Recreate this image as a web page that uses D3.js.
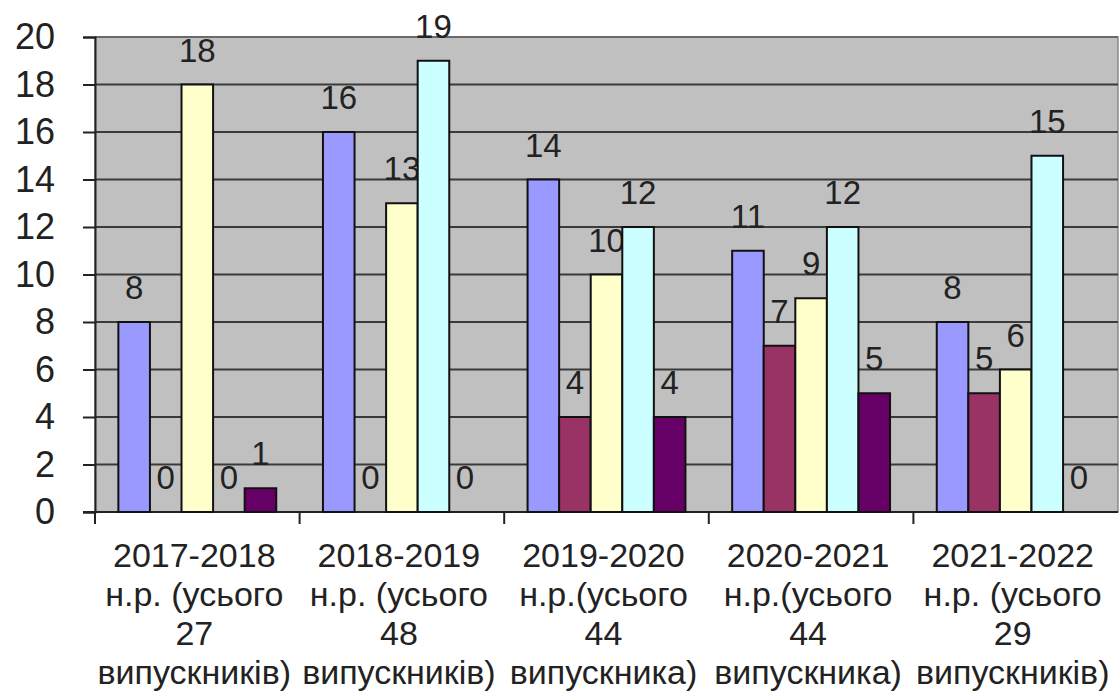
<!DOCTYPE html>
<html>
<head>
<meta charset="utf-8">
<script src="https://cdn.jsdelivr.net/npm/d3@7"></script>
<style>
  html, body { margin: 0; padding: 0; background: #fff; }
  svg { display: block; font-family: "Liberation Sans", Arial, sans-serif; }
</style>
</head>
<body>
<svg></svg>
<script>
// Category labels (one array of lines per school year)
const categories = ["2017-2018", "2018-2019", "2019-2020", "2020-2021", "2021-2022"];
const categoryLines = [
    ["2017-2018", "н.р. (усього", "27", "випускників)"],
    ["2018-2019", "н.р. (усього", "48", "випускників)"],
    ["2019-2020", "н.р.(усього", "44", "випускника)"],
    ["2020-2021", "н.р.(усього", "44", "випускника)"],
    ["2021-2022", "н.р. (усього", "29", "випускників)"]
];

// Series values
const seriesBlue = [8, 16, 14, 11, 8];
const seriesMaroon = [0, 0, 4, 7, 5];
const seriesYellow = [18, 13, 10, 9, 6];
const seriesCyan = [0, 19, 12, 12, 15];
const seriesPurple = [1, 0, 4, 5, 0];

const seriesColors = ["#9999ff", "#993366", "#ffffcc", "#ccffff", "#660066"];
const yTicks = [0, 2, 4, 6, 8, 10, 12, 14, 16, 18, 20];

const allSeries = [seriesBlue, seriesMaroon, seriesYellow, seriesCyan, seriesPurple];

const width = 1120;
const height = 697;
const plotLeft = 95;
const plotRight = 1118;
const plotTop = 37;
const plotBottom = 512;

const svg = d3.select("svg")
    .attr("width", width)
    .attr("height", height);

const xScale = d3.scaleBand()
    .domain(categories)
    .range([plotLeft, plotRight])
    .padding(0);

//Bars inside one category
const innerScale = d3.scaleBand()
    .domain(d3.range(allSeries.length))
    .range([0, xScale.bandwidth()])
    .paddingInner(0)
    .paddingOuter(0.74);

const yScale = d3.scaleLinear()
    .domain([0, 20])
    .range([plotBottom, plotTop]);

//Gray plot area
svg.append("rect")
    .attr("x", plotLeft)
    .attr("y", plotTop)
    .attr("width", plotRight - plotLeft)
    .attr("height", plotBottom - plotTop)
    .attr("fill", "#c0c0c0")
    .attr("stroke", "#8a8a8a")
    .attr("stroke-width", 1.5);

//Gridlines
svg.append("g")
    .selectAll("line")
    .data(yTicks.filter(d => d > 0))
    .enter()
    .append("line")
    .attr("x1", plotLeft)
    .attr("x2", plotRight)
    .attr("y1", d => yScale(d))
    .attr("y2", d => yScale(d))
    .attr("stroke", d => d === 20 ? "#6a6a6a" : "#3a3a3a")
    .attr("stroke-width", 2);

//Y axis
const yAxis = d3.axisLeft(yScale)
    .tickValues(yTicks)
    .tickSize(12)
    .tickPadding(28);

const yAxisGroup = svg.append("g")
    .attr("transform", "translate(" + plotLeft + ", 0)")
    .call(yAxis);
yAxisGroup.select(".domain").attr("stroke", "#222").attr("stroke-width", 2);
yAxisGroup.selectAll(".tick line").attr("stroke", "#222").attr("stroke-width", 2);
yAxisGroup.selectAll(".tick text")
    .attr("fill", "#222")
    .style("font-size", "36px")
    .style("font-family", "Liberation Sans, Arial, sans-serif");

//X axis (category boundary ticks only)
const xAxisGroup = svg.append("g")
    .attr("transform", "translate(0, " + plotBottom + ")");
xAxisGroup.append("line")
    .attr("x1", plotLeft - 12)
    .attr("x2", plotRight)
    .attr("stroke", "#222")
    .attr("stroke-width", 2);
xAxisGroup.selectAll(".btick")
    .data(categories)
    .enter()
    .append("line")
    .attr("class", "btick")
    .attr("x1", d => xScale(d))
    .attr("x2", d => xScale(d))
    .attr("y1", 0)
    .attr("y2", 12)
    .attr("stroke", "#222")
    .attr("stroke-width", 2);

//Category labels
const catLabels = svg.append("g");
categoryLines.forEach((lines, i) => {
    const cx = xScale(categories[i]) + xScale.bandwidth() / 2 - 3;
    const t = catLabels.append("text")
        .attr("text-anchor", "middle")
        .attr("fill", "#222")
        .style("font-size", "34px");
    lines.forEach((line, j) => {
        t.append("tspan")
            .attr("x", cx)
            .attr("y", 567 + j * 39)
            .text(line);
    });
});

//Bars and labels per series (later series paint over earlier labels)
allSeries.forEach((values, s) => {
    const g = svg.append("g");
    const data = values.map((v, i) => ({ cat: categories[i], value: v }));

    g.selectAll("rect")
        .data(data.filter(d => d.value > 0))
        .enter()
        .append("rect")
        .attr("x", d => xScale(d.cat) + innerScale(s))
        .attr("y", d => yScale(d.value))
        .attr("width", innerScale.bandwidth())
        .attr("height", d => plotBottom - yScale(d.value))
        .attr("fill", seriesColors[s])
        .attr("stroke", "#111")
        .attr("stroke-width", 2);

    g.selectAll("text")
        .data(data)
        .enter()
        .append("text")
        .attr("x", d => xScale(d.cat) + innerScale(s) + innerScale.bandwidth() / 2)
        .attr("y", d => yScale(d.value) - 23)
        .attr("text-anchor", "middle")
        .attr("fill", "#222")
        .style("font-size", "33px")
        .text(d => d.value);
});
</script>
</body>
</html>
